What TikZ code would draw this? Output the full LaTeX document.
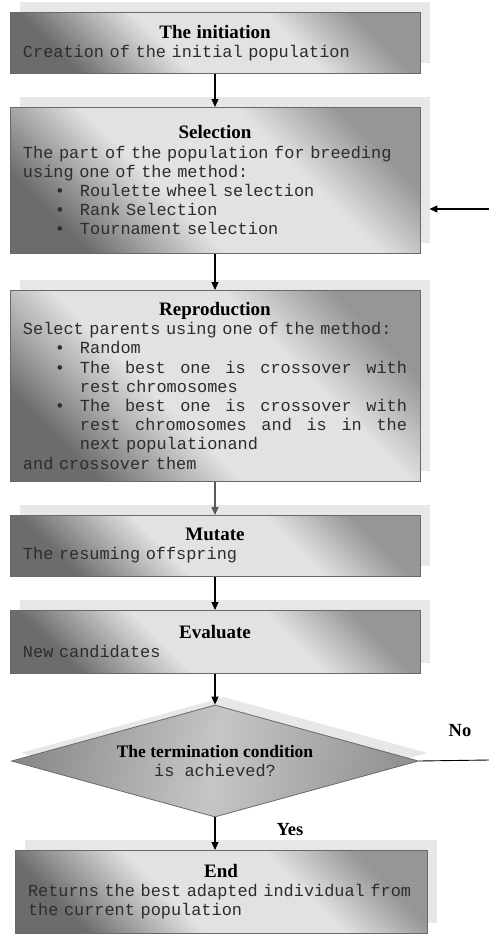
\documentclass[tikz,border=0pt]{standalone}
\usepackage{fontspec}
\usepackage{xcolor}
\usepackage{tikz}
\usetikzlibrary{arrows.meta,calc,positioning,shapes.geometric,shadows}
\newfontfamily\headfont{Liberation Serif}
\newfontfamily\bodyfont{Liberation Mono}
\definecolor{edge}{RGB}{105,105,105}
\definecolor{backgray}{RGB}{208,208,208}
\definecolor{metaldark}{RGB}{108,108,108}
\definecolor{metallight}{RGB}{226,226,226}
\definecolor{metalmid}{RGB}{150,150,150}
\definecolor{inkgray}{RGB}{45,45,45}
\pgfdeclareverticalshading{metal}{100bp}{color(0bp)=(metaldark); color(25bp)=(metaldark);
  color(42bp)=(metallight); color(62bp)=(metallight); color(75bp)=(metalmid); color(100bp)=(metalmid)}
\newcommand{\boxhead}[1]{\makebox[\linewidth]{\color{black}\headfont\bfseries\fontsize{19pt}{20pt}\selectfont #1}}
\newcommand{\bulletitem}{\hspace*{32pt}\makebox[25pt][l]{\textbullet}}
\newcommand{\hangitem}{\hspace*{57pt}}
\newcommand{\monosize}{\bodyfont\fontsize{16.9pt}{19.2pt}\selectfont}

\begin{document}
\begin{tikzpicture}[x=1pt,y=-1pt,
  stepbox/.style={draw=edge,line width=0.8pt,anchor=north,minimum width=410pt,text width=384pt,
    inner xsep=13pt,inner ysep=0pt,align=left,shade,shading=metal,shading angle=-45,
    drop shadow={shadow xshift=10pt,shadow yshift=10pt,fill=backgray},
    font=\monosize,text=inkgray},
  condbox/.style={diamond,aspect=3.63,draw=edge,line width=0.8pt,inner sep=0pt,minimum width=407pt,minimum height=112pt,
    align=center,left color=gray!90,right color=gray!85,middle color=gray!45,
    shading angle=80,drop shadow={shadow xshift=9pt,shadow yshift=8pt,fill=backgray},
    font=\monosize,text=inkgray},
  flow/.style={line width=1.1pt,-{Triangle[width=7pt,length=8pt]}},
  lbl/.style={font=\headfont\bfseries\fontsize{18.5pt}{19pt}\selectfont}]
  \useasboundingbox (0,0) rectangle (489,934);
  \fill[white] (0,0) rectangle (489,934);

  \node[stepbox,minimum height=61pt] (init) at (215,12) {\boxhead{The initiation}\\ Creation of the initial population};
  \node[stepbox,minimum height=146pt] (sel) at (215,107) {\boxhead{Selection}\\
    The part of the population for breeding\\ using one of the method:\\
    \bulletitem Roulette wheel selection\\ \bulletitem Rank Selection\\ \bulletitem Tournament selection};
  \node[stepbox,minimum height=191pt] (rep) at (215,290) {\boxhead{Reproduction}\\
    Select parents using one of the method:\\
    \bulletitem Random\\
    \bulletitem\makebox[327pt]{The\hfill best\hfill one\hfill is\hfill crossover\hfill with}\\
    \hangitem rest chromosomes\\
    \bulletitem\makebox[327pt]{The\hfill best\hfill one\hfill is\hfill crossover\hfill with}\\
    \hangitem\makebox[327pt]{rest\hfill chromosomes\hfill and\hfill is\hfill in\hfill the}\\
    \hangitem next populationand\\
    and crossover them};
  \node[stepbox,minimum height=61pt] (mut) at (215,515) {\boxhead{Mutate}\\ The resuming offspring};
  \node[stepbox,minimum height=63pt] (eval) at (215,610) {\boxhead{Evaluate}\\ New candidates};
  \node[condbox] (cond) at (215,761) {{\headfont\bfseries\fontsize{17.5pt}{17pt}\selectfont\color{black} The termination condition}\\ is achieved?};
  \node[stepbox,minimum width=412pt,text width=386pt,inner xsep=13pt,minimum height=83pt] (fin) at (221,850) {\boxhead{End}\\
    Returns the best adapted individual from\\ the current population};

  % main flow downwards
  \foreach \a/\b/\c in {init/sel/black,sel/rep/black,rep/mut/black!65,mut/eval/black,eval/cond/black,cond/fin/black}
    \draw[flow,\c] (\a.south) -- (\a.south |- \b.north);

  % loop back from the termination test
  \coordinate (noout) at (489,760);
  \coordinate (loopin) at (489,209);
  \draw[line width=0.9pt] (cond.east) -- (noout);
  \draw[flow,shorten >=9pt] (loopin) -- (loopin -| sel.east);
  \node[lbl] (nolbl) at (460,731) {No};
  \node[lbl] (yeslbl) at (290,830) {Yes};
\end{tikzpicture}
\end{document}
